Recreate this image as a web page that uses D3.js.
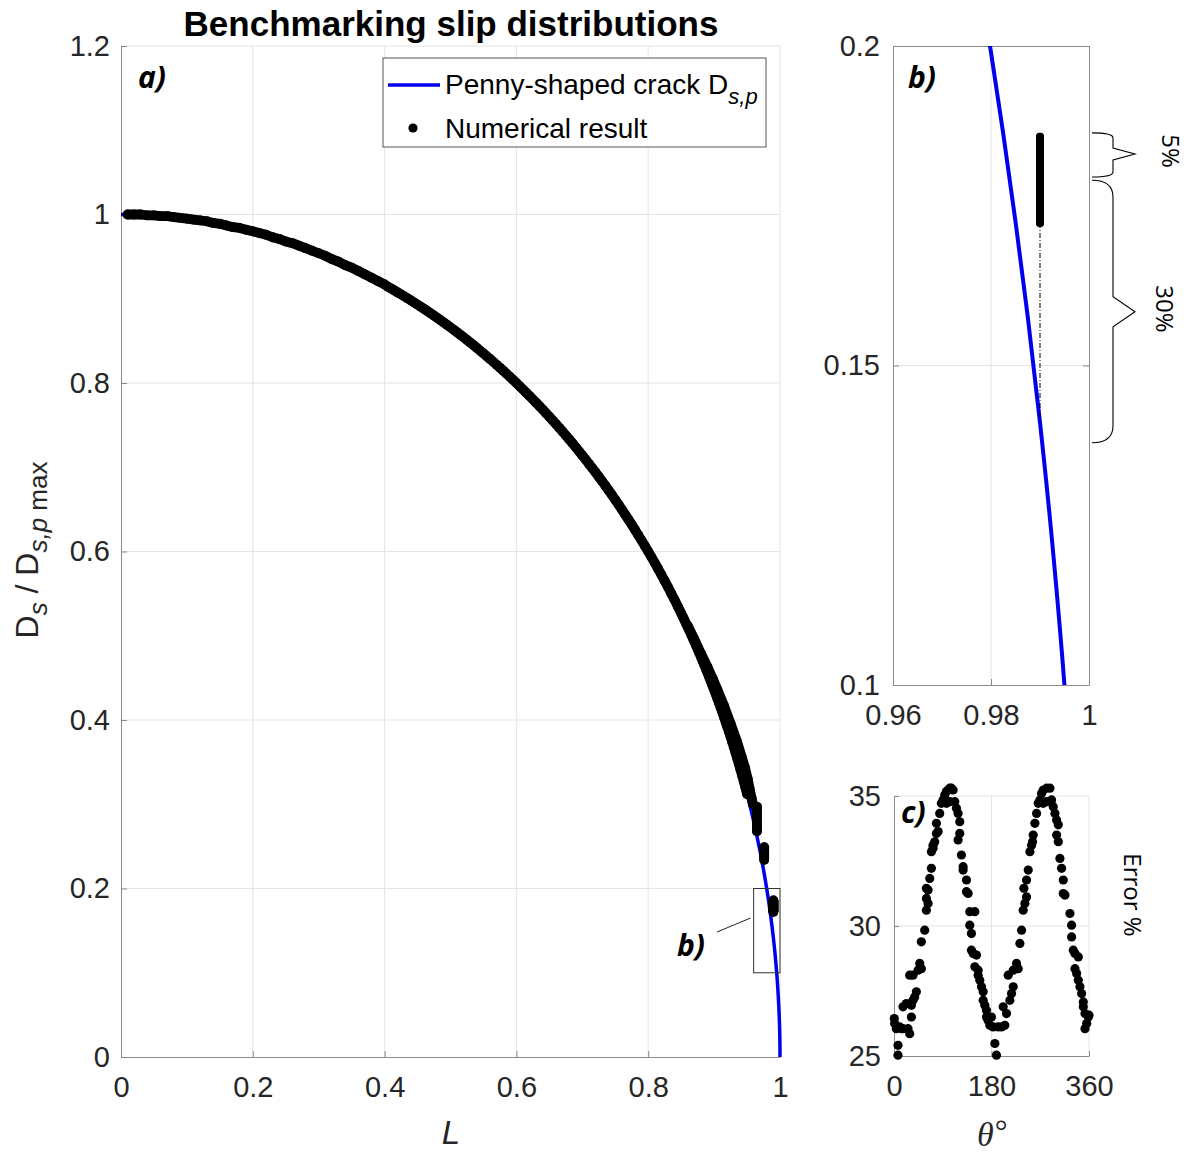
<!DOCTYPE html>
<html><head><meta charset="utf-8">
<script src="https://cdn.jsdelivr.net/npm/d3@7"></script>
<style>body{margin:0;background:#fff}svg{display:block}</style>
</head><body>
<svg id="chart" width="1187" height="1159"></svg>
<script>
// ---------- tick values ----------
const xTicksA = [0, 0.2, 0.4, 0.6, 0.8, 1];
const yTicksA = [0, 0.2, 0.4, 0.6, 0.8, 1, 1.2];
const xTicksB = [0.96, 0.98, 1];
const yTicksB = [0.1, 0.15, 0.2];
const xTicksC = [0, 180, 360];
const yTicksC = [25, 30, 35];

// ---------- analytical penny-shaped crack ----------
const crackL = [0, 0.05, 0.1, 0.15, 0.2, 0.25, 0.3, 0.35, 0.4, 0.45, 0.5, 0.55, 0.6, 0.65, 0.7, 0.75, 0.8, 0.85, 0.88, 0.9, 0.92, 0.94, 0.95, 0.96, 0.97, 0.975, 0.9775, 0.98, 0.9825, 0.985, 0.9875, 0.99, 0.9925, 0.995, 0.997, 0.999, 0.9995, 0.9999, 1];
const crackD = [1, 0.99875, 0.99499, 0.98869, 0.9798, 0.96825, 0.95394, 0.93675, 0.91652, 0.89303, 0.86603, 0.83516, 0.8, 0.75993, 0.71414, 0.66144, 0.6, 0.52678, 0.47497, 0.43589, 0.39192, 0.34117, 0.31225, 0.28, 0.2431, 0.2222, 0.21094, 0.199, 0.18626, 0.17255, 0.15762, 0.14107, 0.12225, 0.09987, 0.0774, 0.04471, 0.03162, 0.01414, 0];

// ---------- numerical result [L, Ds/Dsp max], in groups of neighbouring nodes ----------
const numericalBand = [
[0.01,1.000],[0.02,1.000],[0.03,1.000],[0.04,0.999],[0.05,0.999],[0.06,0.998],[0.07,0.998],[0.08,0.997],[0.09,0.996],[0.10,0.995],
[0.11,0.994],[0.12,0.993],[0.13,0.992],[0.14,0.990],[0.15,0.989],[0.16,0.987],[0.17,0.985],[0.18,0.984],[0.19,0.982],[0.20,0.980],
[0.21,0.978],[0.22,0.976],[0.23,0.973],[0.24,0.971],[0.25,0.968],[0.26,0.966],[0.27,0.963],[0.28,0.960],[0.29,0.957],[0.30,0.954],
[0.31,0.951],[0.32,0.947],[0.33,0.944],[0.34,0.940],[0.35,0.937],[0.36,0.933],[0.37,0.929],[0.38,0.925],[0.39,0.921],[0.40,0.917],
[0.405,0.9143],[0.41,0.9121],[0.415,0.9098],[0.42,0.9075],[0.425,0.9052],[0.43,0.9028],[0.435,0.9004],[0.44,0.8980],[0.445,0.8955],[0.45,0.8930],
[0.455,0.8905],[0.46,0.8879],[0.465,0.8853],[0.47,0.8827],[0.475,0.8800],[0.48,0.8773],[0.485,0.8745],[0.49,0.8717],[0.495,0.8689],[0.50,0.8660],
[0.505,0.8631],[0.51,0.8602],[0.515,0.8572],[0.52,0.8542],[0.525,0.8511],[0.53,0.8480],[0.535,0.8449],[0.54,0.8417],[0.545,0.8384],[0.55,0.8352],
[0.555,0.8318],[0.56,0.8285],[0.565,0.8251],[0.57,0.8216],[0.575,0.8182],[0.58,0.8146],[0.585,0.8110],[0.59,0.8074],[0.595,0.8037],[0.60,0.8000],
[0.605,0.7962],[0.61,0.7924],[0.615,0.7885],[0.62,0.7846],[0.625,0.7806],[0.63,0.7766],[0.635,0.7725],[0.64,0.7684],[0.645,0.7642],[0.65,0.7599],
[0.655,0.7556],[0.66,0.7513],[0.665,0.7468],[0.67,0.7424],[0.675,0.7378],[0.68,0.7332],[0.685,0.7285],[0.69,0.7238],[0.695,0.7190],[0.70,0.7141],
[0.705,0.7092],[0.71,0.7042],[0.715,0.6991],[0.72,0.6940],[0.725,0.6888],[0.73,0.6835],[0.735,0.6781],[0.74,0.6726],[0.745,0.6671],[0.75,0.6614],
[0.755,0.6557],[0.76,0.6499],[0.765,0.6440],[0.77,0.6380],[0.775,0.6320],[0.78,0.6258],[0.785,0.6195],[0.79,0.6131],[0.795,0.6066],[0.80,0.6000],
[0.805,0.5933],[0.81,0.5864],[0.815,0.5795],[0.82,0.5724],[0.825,0.5651],[0.83,0.5578],[0.835,0.5502],[0.84,0.5426],[0.845,0.5348],[0.85,0.5268],
[0.8525,0.5227],[0.855,0.5186],[0.8575,0.5145],[0.86,0.5103],[0.8625,0.5061],[0.865,0.5018],[0.8675,0.4974],[0.87,0.4931],[0.8725,0.4886],[0.875,0.4841],
[0.8775,0.4796],[0.88,0.4750],[0.8825,0.4703],[0.885,0.4656],[0.8875,0.4608],[0.89,0.4560],[0.8925,0.4511],[0.895,0.4461],[0.8975,0.4410],[0.90,0.4359],
[0.9025,0.4307],[0.905,0.4254],[0.9075,0.4201],[0.91,0.4146],[0.9125,0.4091],[0.915,0.4035],[0.9175,0.3977],[0.92,0.3919],[0.9225,0.3860],[0.925,0.3800],
[0.9275,0.3738],[0.93,0.3676],[0.9325,0.3612],[0.935,0.3546],[0.9375,0.3480],[0.94,0.3412],[0.9425,0.3342],[0.945,0.3271],[0.9475,0.3198],[0.95,0.3122]
];
const numericalOuter = [[0.86,0.512],[0.87,0.496],[0.88,0.479],[0.89,0.463],[0.898,0.449],[0.905,0.436],[0.915,0.417],[0.925,0.396],[0.935,0.374],[0.942,0.356],[0.947,0.343],[0.951,0.330],[0.954,0.318],[0.957,0.307],[0.959,0.300]];
const numericalRing1 = [[0.965,0.297],[0.965,0.292],[0.965,0.287],[0.965,0.282],[0.965,0.277],[0.965,0.272],[0.965,0.268]];
const numericalRing2 = [[0.976,0.249],[0.976,0.245],[0.976,0.241],[0.976,0.238],[0.976,0.234]];
const numericalRing3 = [
[0.99,0.1723],[0.99,0.1730],[0.99,0.1738],[0.99,0.1745],[0.99,0.1753],[0.99,0.1760],[0.99,0.1768],[0.99,0.1775],[0.99,0.1783],[0.99,0.1790],
[0.99,0.1798],[0.99,0.1805],[0.99,0.1813],[0.99,0.1820],[0.99,0.1828],[0.99,0.1835],[0.99,0.1843],[0.99,0.1850],[0.99,0.1858]];
const numericalGroups = [numericalBand, numericalOuter, numericalRing1, numericalRing2, numericalRing3];

// gap between numerical cluster and analytical value at L = 0.99
const gapL = 0.99, gapFrom = 0.1723, gapTo = 0.1411;

// braces (data units of panel b)
const braceLabels = ["5%", "30%"];
const braceTop = [0.1864, 0.1790];
const braceBottom = [0.1795, 0.1379];
const braceTip = [0.1831, 0.1584];

// ---------- error vs theta ----------
const errTheta = [0.5,1.2,4.3,7.4,7.4,10.5,13.6,16.6,25.9,29.0,16.6,22.8,32.1,32.1,35.1,38.2,41.3,29.0,35.1,44.4,
47.5,50.5,50.5,56.7,59.8,62.9,59.8,62.9,59.8,66.0,69.0,69.0,72.1,72.1,75.2,78.3,78.3,81.4,84.4,87.5,
90.6,93.7,96.8,99.9,102.9,106.0,109.1,96.8,102.9,
112.2,115.3,118.3,121.4,121.4,118.3,124.5,127.6,127.6,133.8,133.8,136.8,139.9,149.2,139.9,143.0,143.0,146.1,152.3,149.2,
155.3,155.3,158.4,161.5,164.6,164.6,167.7,170.7,170.7,173.8,176.9,180.0,183.1,186.2,189.2,192.3,198.5,204.6,
201.6,207.7,213.9,217.0,220.1,210.8,220.1,226.2,229.3,232.4,235.5,238.5,241.6,244.7,239.8,244.7,247.8,250.9,254.0,255.8,
257.0,260.1,263.2,266.3,269.4,272.4,275.5,281.7,287.9,275.5,281.7,
290.9,294.0,297.1,300.2,303.3,300.2,303.3,306.3,309.4,312.5,312.5,315.6,324.8,327.9,327.9,331.0,334.1,340.3,334.1,337.2,
340.3,343.3,346.4,349.5,349.5,352.6,358.7,355.7,352.6,360.0];
const errValue = [26.44,26.25,26.05,25.41,25.03,26.12,26.05,26.05,26.05,25.86,26.89,27.02,26.50,26.95,27.14,27.27,27.47,28.11,28.11,28.30,
28.56,28.36,29.39,29.84,30.61,30.87,31.06,31.38,31.45,31.83,32.22,32.86,32.99,33.11,33.24,33.56,33.95,33.63,34.33,34.72,
34.85,35.04,35.17,35.23,35.30,35.30,35.23,34.72,34.78,
34.78,34.53,34.33,34.01,33.56,33.31,32.73,32.28,32.15,31.77,31.32,31.25,30.55,30.55,30.03,29.71,29.07,28.94,28.88,28.43,
28.30,28.11,27.91,27.66,27.47,27.14,26.95,26.76,26.50,26.37,26.18,26.50,26.12,25.48,25.03,26.12,26.12,26.18,
26.89,26.63,27.14,27.40,27.66,28.11,28.30,28.56,28.36,29.33,29.84,30.61,30.87,31.12,31.45,31.77,32.15,32.86,33.11,33.24,
33.50,33.95,34.33,34.72,34.85,35.10,35.23,35.30,35.30,34.72,34.78,
34.85,34.59,34.33,34.08,33.89,33.50,33.24,32.60,32.22,31.77,31.25,31.19,30.48,30.03,29.58,29.07,28.94,28.81,28.36,28.17,
27.91,27.66,27.40,27.08,26.89,26.63,26.50,26.25,26.05,26.57];

// ---------- drawing ----------
const svg = d3.select("#chart");
svg.append("rect").attr("width", 1187).attr("height", 1159).attr("fill", "#fff");
const SANS = "'Liberation Sans', Arial, sans-serif";
const CAL = "'Open Sans', 'Noto Sans', sans-serif";
const AXC = "#8a8a8a", GRID = "#e4e4e4", TXT = "#262626";
const crack = crackL.map((l, i) => [l, crackD[i]]);
const errPts = errTheta.map((t, i) => [t, errValue[i]]);

function styleAxis(g) {
  g.attr("font-family", SANS).attr("font-size", 29);
  g.select(".domain").attr("stroke", AXC);
  g.selectAll(".tick line").attr("stroke", AXC);
  g.selectAll(".tick text").attr("fill", TXT);
}
function panelLabel(sel, x, y, s) {
  sel.append("text").attr("x", x).attr("y", y).text(s)
    .attr("font-family", CAL).attr("font-weight", "bold").attr("font-style", "italic")
    .attr("font-size", 30).attr("fill", "#000");
}

// ===== Panel a =====
const xA = d3.scaleLinear().domain([0, 1]).range([121, 780]);
const yA = d3.scaleLinear().domain([0, 1.2]).range([1057, 46]);
const gA = svg.append("g");
gA.selectAll(".gx").data(xTicksA.slice(1)).join("line")
  .attr("x1", d => xA(d)).attr("x2", d => xA(d)).attr("y1", yA(0)).attr("y2", yA(1.2))
  .attr("stroke", GRID).attr("stroke-width", 1);
gA.selectAll(".gy").data(yTicksA.slice(1)).join("line")
  .attr("x1", xA(0)).attr("x2", xA(1)).attr("y1", d => yA(d)).attr("y2", d => yA(d))
  .attr("stroke", GRID).attr("stroke-width", 1);
gA.append("g").attr("transform", `translate(0,${yA(0)})`)
  .call(d3.axisBottom(xA).tickValues(xTicksA).tickSize(-6).tickSizeOuter(0).tickPadding(19).tickFormat(d3.format("~g")))
  .call(styleAxis);
gA.append("g").attr("transform", `translate(${xA(0)},0)`)
  .call(d3.axisLeft(yA).tickValues(yTicksA).tickSize(-6).tickSizeOuter(0).tickPadding(11).tickFormat(d3.format("~g")))
  .call(styleAxis);

const lineA = d3.line().x(d => xA(d[0])).y(d => yA(d[1])).curve(d3.curveMonotoneX);
gA.append("path").datum(crack).attr("d", lineA).attr("fill", "none").attr("stroke", "#0000ee").attr("stroke-width", 3.5);
const linkA = d3.line().x(d => xA(d[0])).y(d => yA(d[1]));
const R_A = 4.9;
gA.selectAll(".band").data(numericalGroups).join("path")
  .attr("d", linkA).attr("fill", "none").attr("stroke", "#000").attr("stroke-width", 2 * R_A)
  .attr("stroke-linecap", "round").attr("stroke-linejoin", "round");
gA.selectAll(".num").data(numericalGroups.flat()).join("circle")
  .attr("cx", d => xA(d[0])).attr("cy", d => yA(d[1])).attr("r", R_A).attr("fill", "#000");

// inset rectangle + label
gA.append("rect").attr("x", xA(0.96)).attr("y", yA(0.2))
  .attr("width", xA(1) - xA(0.96)).attr("height", yA(0.1) - yA(0.2))
  .attr("fill", "none").attr("stroke", "#333").attr("stroke-width", 1);
gA.append("line").attr("x1", 717).attr("y1", 932).attr("x2", xA(0.96) - 3).attr("y2", yA(0.165))
  .attr("stroke", "#222").attr("stroke-width", 1);
panelLabel(gA, 677, 956, "b)");
panelLabel(gA, 138, 88, "a)");

// legend
const leg = svg.append("g");
leg.append("rect").attr("x", 383).attr("y", 58).attr("width", 383).attr("height", 89)
  .attr("fill", "#fff").attr("stroke", "#555").attr("stroke-width", 1);
leg.append("line").attr("x1", 388).attr("x2", 440).attr("y1", 85).attr("y2", 85)
  .attr("stroke", "#0000ee").attr("stroke-width", 3.5);
leg.append("circle").attr("cx", 413).attr("cy", 128).attr("r", 4.6).attr("fill", "#000");
const t1 = leg.append("text").attr("x", 445).attr("y", 94).attr("font-family", SANS).attr("font-size", 28).attr("fill", "#000");
t1.append("tspan").text("Penny-shaped crack D");
t1.append("tspan").attr("dy", 10).attr("font-size", 22).attr("font-style", "italic").text("s,p");
leg.append("text").attr("x", 445).attr("y", 138).attr("font-family", SANS).attr("font-size", 28).attr("fill", "#000").text("Numerical result");

// title
svg.append("text").attr("x", 451).attr("y", 36).attr("text-anchor", "middle")
  .attr("font-family", SANS).attr("font-weight", "bold").attr("font-size", 35).attr("fill", "#000")
  .text("Benchmarking slip distributions");

// axis labels a
svg.append("text").attr("x", 451).attr("y", 1144).attr("text-anchor", "middle")
  .attr("font-family", SANS).attr("font-style", "italic").attr("font-size", 33).attr("fill", TXT).text("L");
const yl = svg.append("text").attr("transform", "translate(38,550) rotate(-90)").attr("text-anchor", "middle")
  .attr("font-family", SANS).attr("font-size", 32).attr("fill", TXT);
yl.append("tspan").text("D");
yl.append("tspan").attr("dy", 9).attr("font-size", 26).attr("font-style", "italic").text("s");
yl.append("tspan").attr("dy", -9).text(" / D");
yl.append("tspan").attr("dy", 9).attr("font-size", 26).attr("font-style", "italic").text("s,p");
yl.append("tspan").attr("font-size", 26).text(" max");

// ===== Panel b =====
const xB = d3.scaleLinear().domain([0.96, 1]).range([893, 1089]);
const yB = d3.scaleLinear().domain([0.1, 0.2]).range([685, 46]);
const gB = svg.append("g");
svg.append("clipPath").attr("id", "clipB").append("rect")
  .attr("x", 893).attr("y", 46).attr("width", 196).attr("height", 639);
gB.append("line").attr("x1", xB(0.98)).attr("x2", xB(0.98)).attr("y1", yB(0.1)).attr("y2", yB(0.2)).attr("stroke", GRID);
gB.append("line").attr("x1", xB(0.96)).attr("x2", xB(1)).attr("y1", yB(0.15)).attr("y2", yB(0.15)).attr("stroke", GRID);
gB.append("g").attr("transform", `translate(0,${yB(0.1)})`)
  .call(d3.axisBottom(xB).tickValues(xTicksB).tickSize(-6).tickSizeOuter(0).tickPadding(19).tickFormat(d3.format("~g")))
  .call(styleAxis);
gB.append("g").attr("transform", `translate(${xB(0.96)},0)`)
  .call(d3.axisLeft(yB).tickValues(yTicksB).tickSize(-6).tickSizeOuter(0).tickPadding(13).tickFormat(d3.format("~g")))
  .call(styleAxis);
gB.append("g").attr("transform", `translate(0,${yB(0.2)})`)
  .call(d3.axisTop(xB).tickValues(xTicksB).tickSize(-6).tickSizeOuter(0).tickFormat(""))
  .call(styleAxis);
gB.append("g").attr("transform", `translate(${xB(1)},0)`)
  .call(d3.axisRight(yB).tickValues(yTicksB).tickSize(-6).tickSizeOuter(0).tickFormat(""))
  .call(styleAxis);
const plotB = gB.append("g").attr("clip-path", "url(#clipB)");
const lineB = d3.line().x(d => xB(d[0])).y(d => yB(d[1])).curve(d3.curveMonotoneX);
plotB.append("path").datum(crack).attr("d", lineB).attr("fill", "none").attr("stroke", "#0000ee").attr("stroke-width", 4);
plotB.append("line").attr("x1", xB(gapL)).attr("x2", xB(gapL)).attr("y1", yB(gapFrom)).attr("y2", yB(gapTo))
  .attr("stroke", "#000").attr("stroke-width", 1).attr("stroke-dasharray", "5,2,1,2");
const linkB = d3.line().x(d => xB(d[0])).y(d => yB(d[1]));
plotB.append("path").datum(numericalRing3).attr("d", linkB).attr("fill", "none")
  .attr("stroke", "#000").attr("stroke-width", 8).attr("stroke-linecap", "round");
plotB.selectAll(".nb").data(numericalGroups.flat().filter(d => d[0] >= 0.96)).join("circle")
  .attr("cx", d => xB(d[0])).attr("cy", d => yB(d[1])).attr("r", 4).attr("fill", "#000");
panelLabel(gB, 908, 88, "b)");

// braces
function bracePath(y0, y1, ym, r, th) {
  const x0 = 1092, xs = 1113, xt = 1135;
  return `M${x0},${y0} Q${xs},${y0} ${xs},${y0 + r} L${xs},${ym - th} L${xt},${ym} L${xs},${ym + th} L${xs},${y1 - r} Q${xs},${y1} ${x0},${y1}`;
}
const braceR = [5, 17], braceH = [6, 15], braceTextX = [1162, 1156];
braceLabels.forEach((lab, i) => {
  svg.append("path").attr("d", bracePath(yB(braceTop[i]), yB(braceBottom[i]), yB(braceTip[i]), braceR[i], braceH[i]))
    .attr("fill", "none").attr("stroke", "#000").attr("stroke-width", 1.1);
  svg.append("text").attr("transform", `translate(${braceTextX[i]},${yB(braceTip[i]) - 3}) rotate(90)`)
    .attr("text-anchor", "middle").attr("font-family", CAL).attr("font-size", 24).attr("fill", "#000").text(lab);
});

// ===== Panel c =====
const xC = d3.scaleLinear().domain([0, 360]).range([894, 1089]);
const yC = d3.scaleLinear().domain([25, 35]).range([1056, 796]);
const gC = svg.append("g");
gC.selectAll(".gcx").data([180, 360]).join("line")
  .attr("x1", d => xC(d)).attr("x2", d => xC(d)).attr("y1", yC(25)).attr("y2", yC(35)).attr("stroke", GRID);
gC.selectAll(".gcy").data([30, 35]).join("line")
  .attr("x1", xC(0)).attr("x2", xC(360)).attr("y1", d => yC(d)).attr("y2", d => yC(d)).attr("stroke", GRID);
gC.append("g").attr("transform", `translate(0,${yC(25)})`)
  .call(d3.axisBottom(xC).tickValues(xTicksC).tickSize(-5).tickSizeOuter(0).tickPadding(19))
  .call(styleAxis);
gC.append("g").attr("transform", `translate(${xC(0)},0)`)
  .call(d3.axisLeft(yC).tickValues(yTicksC).tickSize(-5).tickSizeOuter(0).tickPadding(13))
  .call(styleAxis);
gC.selectAll(".ec").data(errPts).join("circle")
  .attr("cx", d => xC(d[0])).attr("cy", d => yC(d[1])).attr("r", 4.6).attr("fill", "#000");
panelLabel(gC, 901, 823, "c)");
const th = svg.append("text").attr("x", 977).attr("y", 1146)
  .attr("font-family", "'Liberation Serif', 'DejaVu Serif', serif").attr("font-size", 34).attr("fill", TXT);
th.append("tspan").attr("font-style", "italic").text("θ");
th.append("tspan").attr("dx", 1).attr("dy", -4).attr("font-size", 32).text("°");
svg.append("text").attr("transform", "translate(1124,895) rotate(90)").attr("text-anchor", "middle")
  .attr("font-family", CAL).attr("font-size", 24).attr("fill", "#000").text("Error %");
</script>
</body></html>
